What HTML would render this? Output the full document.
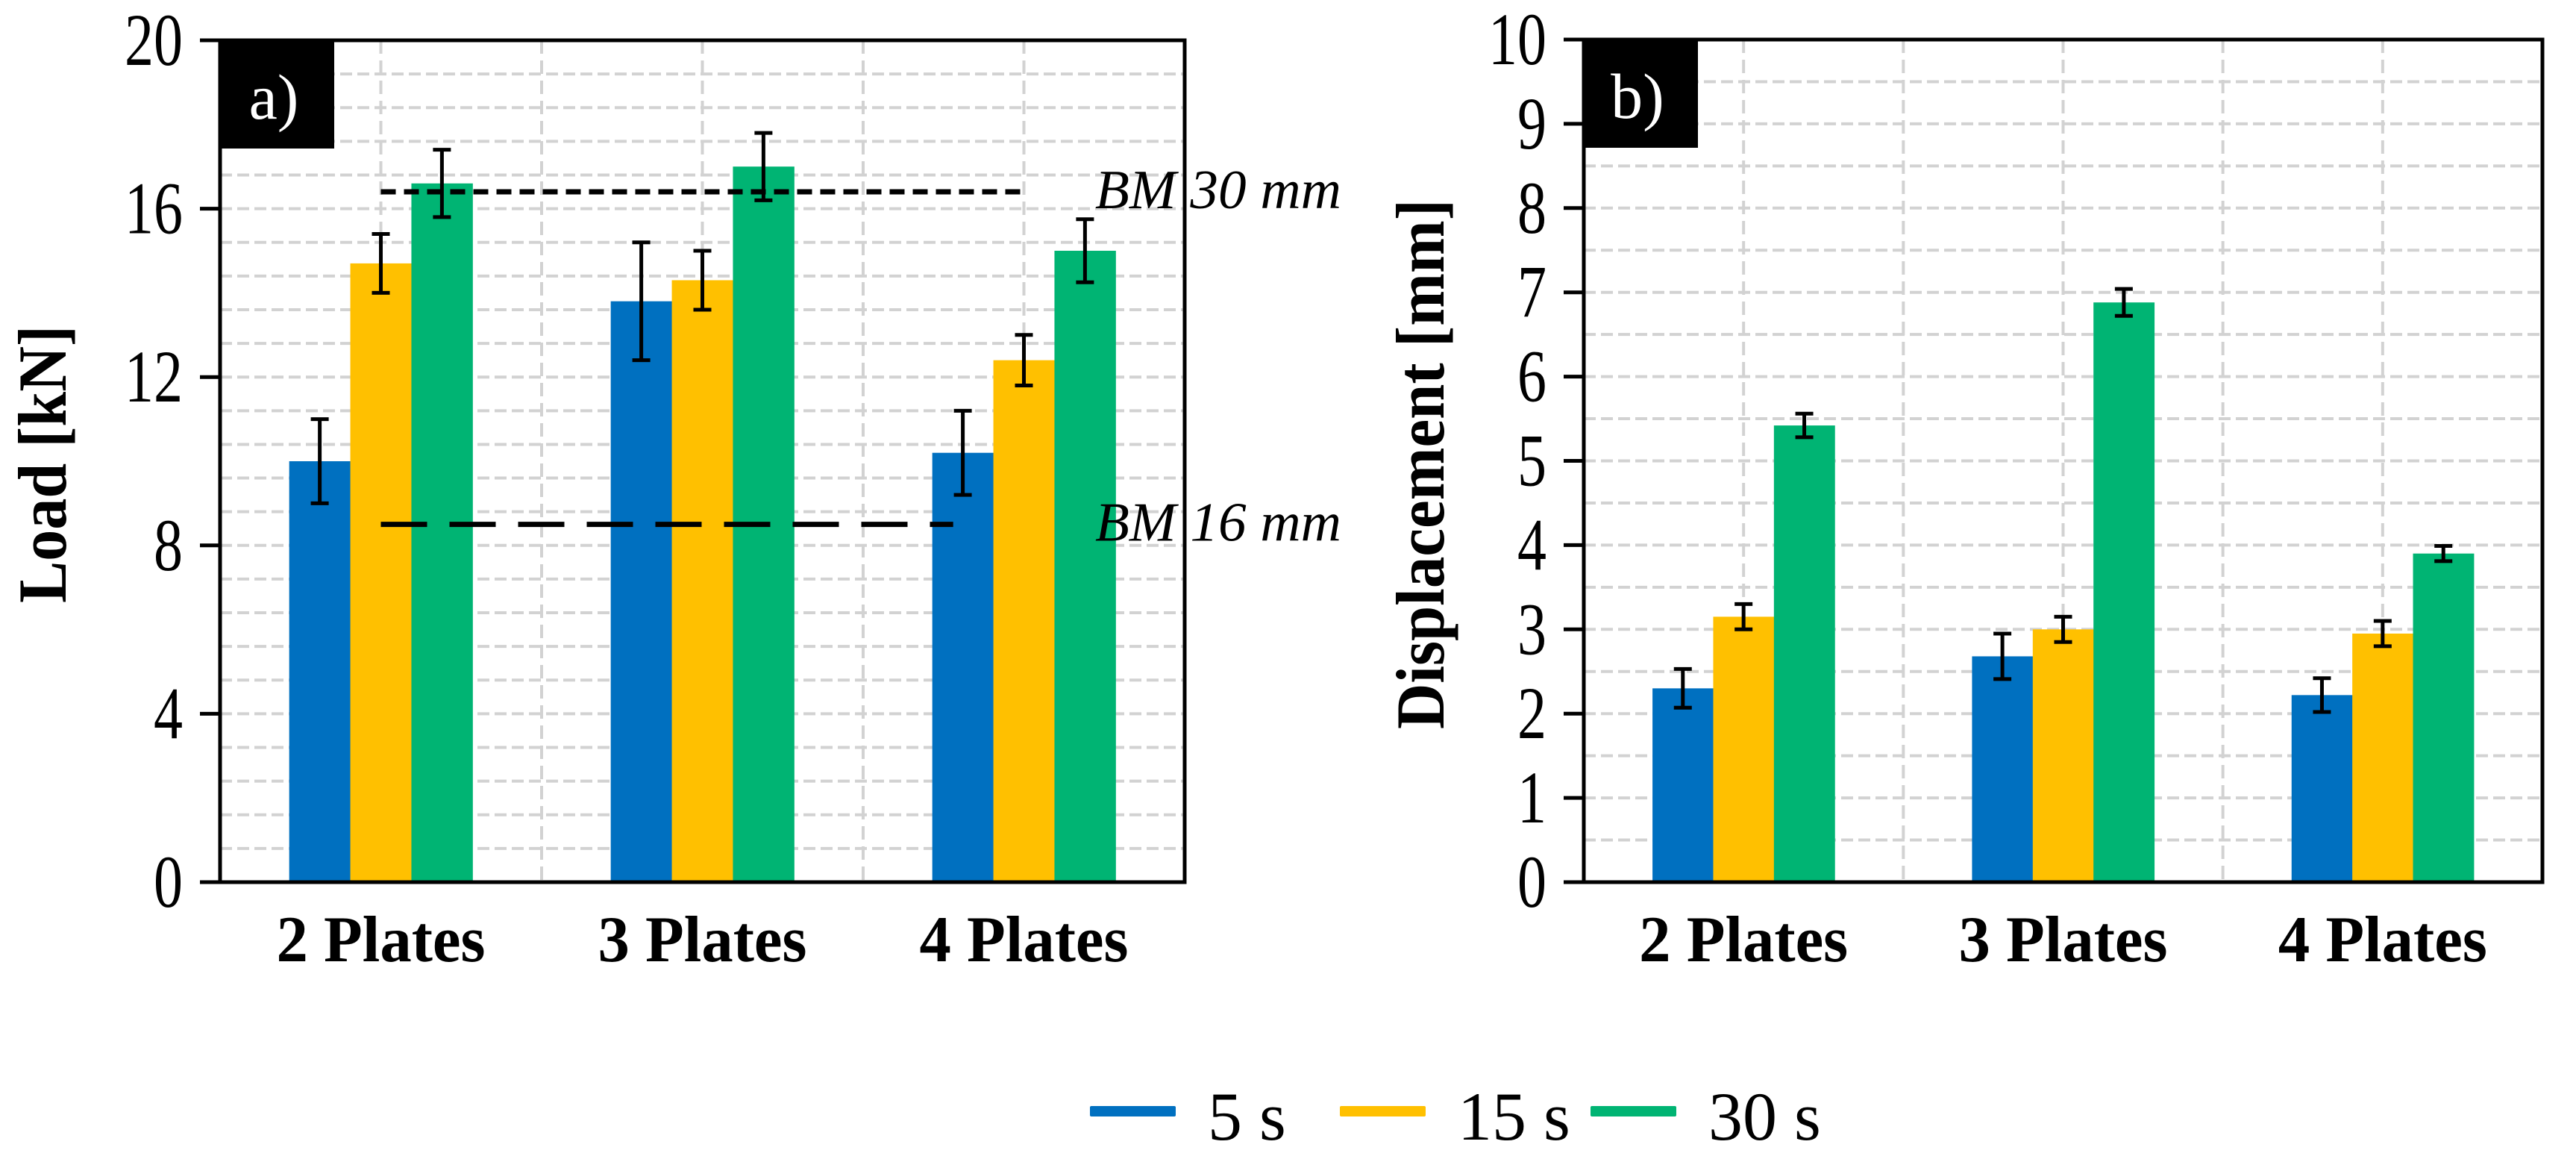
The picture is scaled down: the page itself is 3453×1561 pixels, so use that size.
<!DOCTYPE html>
<html><head><meta charset="utf-8"><style>
html,body{margin:0;padding:0;background:#fff;width:3453px;height:1561px;overflow:hidden}
svg text{font-family:"Liberation Serif",serif}
</style></head><body>
<svg id="chart" width="3453" height="1561" viewBox="0 0 3453 1561" xmlns="http://www.w3.org/2000/svg"></svg>
<script>
const categories = ["2 Plates","3 Plates","4 Plates"];
const seriesNames = ["5 s","15 s","30 s"];
const colors = ["#0070c0","#ffc000","#00b473"];
const loadS5 = [10.0, 13.8, 10.2];
const loadS15 = [14.7, 14.3, 12.4];
const loadS30 = [16.6, 17.0, 15.0];
const loadErr5 = [1.0, 1.4, 1.0];
const loadErr15 = [0.7, 0.7, 0.6];
const loadErr30 = [0.8, 0.8, 0.75];
const dispS5 = [2.3, 2.68, 2.22];
const dispS15 = [3.15, 3.0, 2.95];
const dispS30 = [5.42, 6.88, 3.9];
const dispErr5 = [0.23, 0.27, 0.2];
const dispErr15 = [0.15, 0.15, 0.15];
const dispErr30 = [0.14, 0.16, 0.09];
const loadTicks = [0,4,8,12,16,20];
const dispTicks = [0,1,2,3,4,5,6,7,8,9,10];
const bm30 = 16.4, bm16 = 8.5;

const svg = document.getElementById('chart');
const NS = 'http://www.w3.org/2000/svg';
function mk(tag, attrs, parent){const e=document.createElementNS(NS,tag);for(const k in attrs)e.setAttribute(k,attrs[k]);(parent||svg).appendChild(e);return e;}

function panel(o){
  const g = mk('g',{});
  
  
  const {L,R,T,B,max,minor} = o;
  const y = v => B - v/max*(B-T);
  const cw = (R-L)/categories.length;
  const xc = i => L + cw*(i+0.5);
  for(let v=minor; v<max-1e-6; v+=minor){
    const l = mk('line',{x1:L,x2:R,y1:y(v),y2:y(v),stroke:'#d2d2d2','stroke-width':4,'stroke-dasharray':'16 7'},g);
    
    
  }
  for(let k=1;k<categories.length*2;k++){
    const x = L + cw*k/2;
    const l = mk('line',{x1:x,x2:x,y1:T,y2:B,stroke:'#d2d2d2','stroke-width':4,'stroke-dasharray':'18 9'},g);
    
    
  }
  const bw = cw*0.19;
  o.series.forEach((vals,s)=>{
    vals.forEach((v,i)=>{
      const x0 = xc(i) - 1.5*bw + s*bw;
      const r = mk('rect',{x:x0,y:y(v),width:bw+0.5,height:B-y(v),fill:colors[s]},g);
      
      
    });
  });
  o.series.forEach((vals,s)=>{
    vals.forEach((v,i)=>{
      const e = o.errs[s][i];
      const cx = xc(i) - bw + s*bw;
      const eg = mk('g',{stroke:'#000','stroke-width':5},g);
      
      
      mk('line',{x1:cx,x2:cx,y1:y(v+e),y2:y(v-e)},eg);
      mk('line',{x1:cx-12,x2:cx+12,y1:y(v+e),y2:y(v+e)},eg);
      mk('line',{x1:cx-12,x2:cx+12,y1:y(v-e),y2:y(v-e)},eg);
    });
  });
  if(o.refs){o.refs.forEach(rf=>{
    const l = mk('line',{x1:xc(0),x2:rf.x2==null?xc(2):L+cw*rf.x2,y1:y(rf.v),y2:y(rf.v),stroke:'#000','stroke-width':7,'stroke-dasharray':rf.dash},g);
    
    
    const t = mk('text',{x:1468,y:y(rf.v)+rf.dy,'font-size':74,'font-style':'italic',textLength:330,lengthAdjust:'spacingAndGlyphs'},g);
    t.textContent = rf.label;
    
    
  });}
  const fr = mk('rect',{x:L,y:T,width:R-L,height:B-T,fill:'none',stroke:'#000','stroke-width':5},g);
  
  
  o.ticks.forEach(v=>{
    mk('line',{x1:L-27,x2:L,y1:y(v),y2:y(v),stroke:'#000','stroke-width':5},g);
    const t = mk('text',{x:L-50,y:y(v)+33,'font-size':100,'text-anchor':'end',textLength:String(v).length*39,lengthAdjust:'spacingAndGlyphs'},g);
    t.textContent = v;
    
    
  });
  categories.forEach((c,i)=>{
    const t = mk('text',{x:xc(i),y:1288,'font-size':88,'font-weight':'bold','text-anchor':'middle',textLength:280,lengthAdjust:'spacingAndGlyphs'},g);
    t.textContent = c;
    
    
  });
  const tg = mk('rect',{x:L,y:T,width:153,height:145,fill:'#000'},g);
  
  
  const tt = mk('text',{x:L+72,y:T+105,'font-size':86,fill:'#fff','text-anchor':'middle'},g);
  tt.textContent = o.tag;
  
  
  const yt = mk('text',{x:0,y:0,'font-size':92,'font-weight':'bold','text-anchor':'middle',transform:`translate(${o.titleX},622) rotate(-90)`,textLength:o.titleLen,lengthAdjust:'spacingAndGlyphs'},g);
  yt.textContent = o.title;
  
  
}

panel({name:'panel-a-load',L:295,R:1588,T:54,B:1182,max:20,minor:0.8,ticks:loadTicks,
  series:[loadS5,loadS15,loadS30],errs:[loadErr5,loadErr15,loadErr30],tag:'a)',title:'Load [kN]',titleX:88,titleLen:372,
  refs:[{v:bm30,dash:'20 11',label:'BM 30 mm',name:'bm-30',dy:22},{v:bm16,dash:'62 30',label:'BM 16 mm',name:'bm-16',dy:22,x2:2.28}]});
panel({name:'panel-b-displacement',L:2123,R:3408,T:53,B:1182,max:10,minor:0.5,ticks:dispTicks,
  series:[dispS5,dispS15,dispS30],errs:[dispErr5,dispErr15,dispErr30],tag:'b)',title:'Displacement  [mm]',titleX:1935,titleLen:710});

const lg = mk('g',{});


const legX = [1461,1796,2132];
seriesNames.forEach((n,s)=>{
  const e = mk('g',{},lg);
  
  
  mk('rect',{x:legX[s],y:1482,width:115,height:14,fill:colors[s],rx:2},e);
  const t = mk('text',{x:legX[s]+158,y:1527,'font-size':92},e);
  t.textContent = n;
});
</script>
</body></html>
